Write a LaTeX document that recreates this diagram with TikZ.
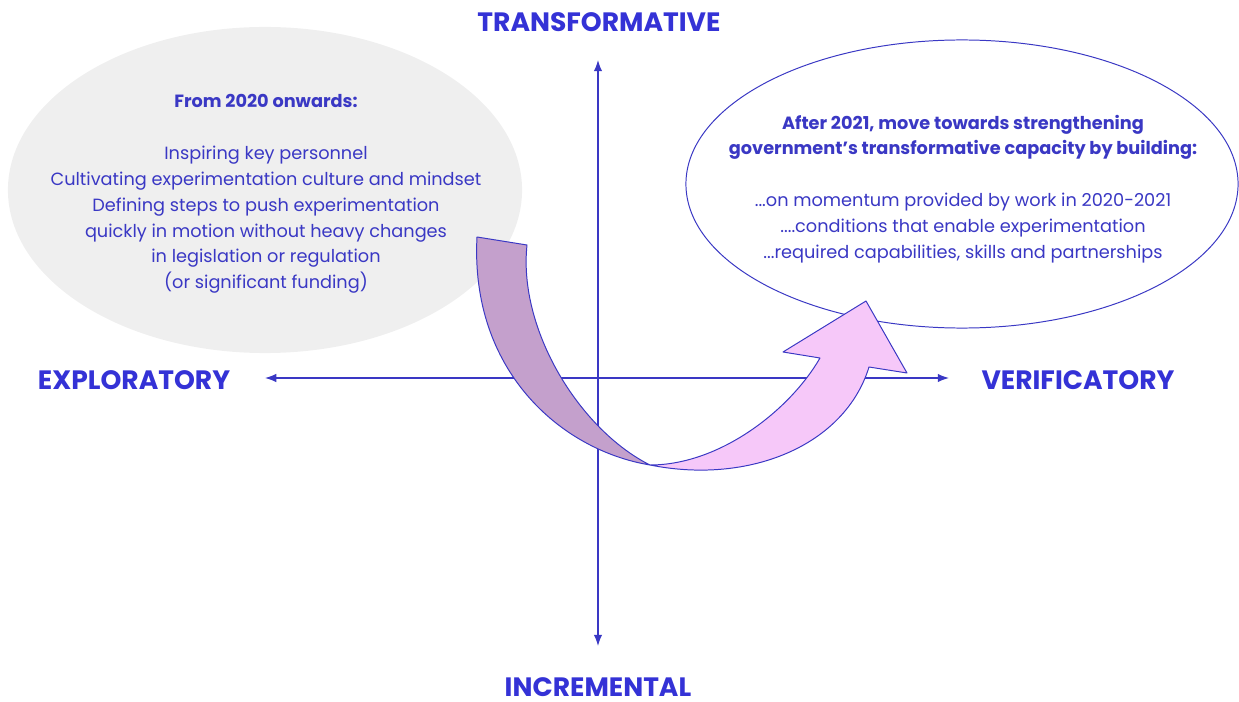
\documentclass[tikz,border=0pt]{standalone}
\usepackage{fontspec}
\setmainfont{Poppins}
\usetikzlibrary{arrows.meta,shapes.geometric}

\definecolor{inkblue}{RGB}{58,56,196}
\definecolor{labelblue}{RGB}{52,50,214}
\definecolor{bubblegray}{RGB}{239,239,239}
\definecolor{tailpurple}{RGB}{196,160,204}
\definecolor{headpink}{RGB}{246,200,249}

\tikzset{
  axislabel/.style={font=\fontsize{18.9}{21}\selectfont\bfseries, text=labelblue, inner sep=1pt},
  bubbletext/.style={font=\fontsize{12.6}{18.4}\selectfont, text=inkblue, align=center},
  axisline/.style={draw=inkblue, line width=0.9pt, {Latex[length=8pt,width=6pt]}-{Latex[length=8pt,width=6pt]}},
  swoosh/.style={draw=inkblue, line width=0.7pt, line join=round}
}

\begin{document}
\begin{tikzpicture}[x=0.025cm,y=-0.025cm]
\useasboundingbox (0,0) rectangle (1239,702);

% bubbles
\node[ellipse, fill=bubblegray, minimum width=12.85cm, minimum height=8.15cm] (pastbubble) at (265,190) {};
\node[ellipse, draw=inkblue, line width=0.7pt, fill=white, minimum width=13.8cm, minimum height=7.2cm] (futurebubble) at (962,184) {};

\node[bubbletext] (pasttext) at (266,194) {\textbf{From 2020 onwards:}\\[18.4pt]
  Inspiring key personnel\\
  Cultivating experimentation culture and mindset\\
  Defining steps to push experimentation\\
  quickly in motion without heavy changes\\
  in legislation or regulation\\
  (or significant funding)};

\node[bubbletext] (futuretext) at (963,189) {\textbf{After 2021, move towards strengthening}\\
  \textbf{government’s transformative capacity by building:}\\[18.4pt]
  ...on momentum provided by work in 2020-2021\\
  ....conditions that enable experimentation\\
  ...required capabilities, skills and partnerships};

% axes
\node[axislabel] (transformative) at (599,22) {TRANSFORMATIVE};
\node[axislabel] (incremental) at (598,687) {INCREMENTAL};
\node[axislabel] (exploratory) at (134,380) {EXPLORATORY};
\node[axislabel] (verificatory) at (1078,380) {VERIFICATORY};

\coordinate (axistop) at (598,60);
\coordinate (axisbottom) at (598,646);
\coordinate (axisleft) at (265,378);
\coordinate (axisright) at (949,378);

\draw[axisline] (axisbottom) -- (axistop);
\draw[axisline] (axisleft) -- (axisright);

% curved arrow
\draw[swoosh, fill=tailpurple]
  (477,237) -- (527,245) .. controls (518,330) and (580,430) .. (650,465)
  .. controls (560,450) and (470,370) .. (477,237) -- cycle;
\draw[swoosh, fill=headpink]
  (650,465) .. controls (720,465) and (790,410) .. (820,358)
  -- (783,352) -- (866,301) -- (907,373) -- (869,367)
  .. controls (845,445) and (750,485) .. (650,465) -- cycle;
\end{tikzpicture}
\end{document}
